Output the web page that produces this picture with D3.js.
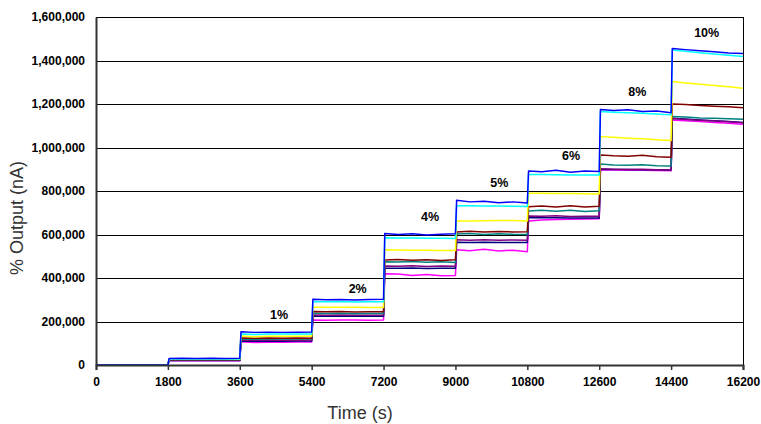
<!DOCTYPE html>
<html><head><meta charset="utf-8">
<script src="https://cdn.jsdelivr.net/npm/d3@7"></script>
<style>body{margin:0;background:#fff}svg{display:block}</style>
</head><body>
<svg id="c" width="761" height="424"></svg>
<script>
// time points (s)
const times = [0,360,720,1080,1440,1800,
  1830,2160,2520,2880,3240,3600,
  3630,3960,4320,4680,5040,5400,
  5430,5760,6120,6480,6840,7200,
  7230,7560,7920,8280,8640,9000,
  9030,9360,9720,10080,10440,10800,
  10830,11160,11520,11880,12240,12600,
  12630,12960,13320,13680,14040,14400,
  14430,14760,15120,15480,15840,16200];
// series values (thousand nA)
const blue = [0,0,0,0,0,0, 30,31,30,31,30,31, 153,150,151,150,151,152, 302,300,301,299,301,302,
  605,600,603,598,601,604, 758,750,753,746,750,745, 892,888,895,886,892,890,
  1175,1170,1174,1165,1168,1160, 1455,1450,1445,1440,1435,1432];
const cyan = [0,0,0,0,0,0, 28,28,28,28,28,28, 143,140,143,142,143,143, 292,291,292,290,291,291,
  585,584,584,583,583,582, 732,732,731,731,730,729, 876,876,875,874,874,873,
  1165,1162,1160,1157,1154,1150, 1448,1442,1436,1430,1424,1418];
const yellow = [0,0,0,0,0,0, 26,26,26,26,26,26, 133,130,132,132,132,132, 266,265,265,265,264,264,
  530,529,528,528,527,526, 662,662,663,664,664,662, 790,790,789,788,787,786,
  1050,1047,1043,1040,1036,1032, 1303,1297,1291,1285,1279,1272];
const darkred = [0,0,0,0,0,0, 24,24,24,24,24,24, 124,123,124,123,124,123, 246,245,246,244,245,245,
  483,485,482,484,481,484, 612,615,611,614,612,613, 728,731,727,732,726,730,
  966,962,960,964,958,955, 1200,1198,1193,1190,1187,1183];
const teal = [0,0,0,0,0,0, 23,23,23,23,23,23, 120,118,120,119,120,119, 238,237,238,236,237,237,
  475,473,476,472,475,471, 602,605,600,604,601,600, 708,712,707,711,706,709,
  924,920,918,921,916,915, 1142,1140,1136,1134,1132,1130];
const purple = [0,0,0,0,0,0, 22,22,22,22,22,22, 115,114,115,114,114,114, 230,229,230,229,229,229,
  455,454,456,453,455,454, 576,574,576,573,575,574, 685,684,686,683,684,684,
  902,900,899,900,898,897, 1133,1129,1125,1122,1118,1114];
const navy = [0,0,0,0,0,0, 21,21,21,21,21,21, 110,109,110,109,110,110, 225,224,225,224,224,224,
  445,445,446,444,445,445, 564,563,564,563,563,563, 677,677,677,676,676,676,
  900,899,899,898,898,897, 1135,1131,1127,1123,1119,1115];
const magenta = [0,0,0,0,0,0, 19,19,19,19,19,19, 107,104,105,105,106,106, 207,206,207,207,206,207,
  420,418,412,416,410,412, 530,525,532,524,528,521, 662,667,669,670,671,672,
  897,896,895,895,894,893, 1127,1123,1119,1115,1111,1107];

const seriesNames = ["magenta","navy","purple","teal","darkred","yellow","cyan","blue"];
const seriesData = [magenta,navy,purple,teal,darkred,yellow,cyan,blue];
const seriesColors = ["#ff00ff","#000080","#800080","#008080","#800000","#ffff00","#00ffff","#0000ff"];

const xTicks = [0,1800,3600,5400,7200,9000,10800,12600,14400,16200];
const yTicks = [0,200,400,600,800,1000,1200,1400,1600];

const pctLabels = ["1%","2%","4%","5%","6%","8%","10%"];
const pctTimes = [4582,6553,8363,10098,11893,13553,15290];
const pctValues = [225,348,677,835,956,1252,1525];

const svg = d3.select("#c");
const L=96,R=743,T=17,B=365;
const x = d3.scaleLinear().domain([0,16200]).range([L,R]);
const y = d3.scaleLinear().domain([0,1600]).range([B,T]);
const FF = "Liberation Sans, Arial, sans-serif";

// grid
svg.append("g").selectAll("line").data(yTicks.filter(d=>d>0)).join("line")
  .attr("x1",L).attr("x2",R).attr("y1",d=>Math.round(y(d))+0.5).attr("y2",d=>Math.round(y(d))+0.5)
  .attr("stroke","#000").attr("stroke-width",1);
// right border
svg.append("line").attr("x1",R+0.5).attr("x2",R+0.5).attr("y1",T).attr("y2",B).attr("stroke","#000");

// series
const line = d3.line().x((d,i)=>x(times[i])).y(d=>y(d));
svg.append("g").selectAll("path").data(seriesData).join("path")
  .attr("d",d=>line(d)).attr("fill","none")
  .attr("stroke",(d,i)=>seriesColors[i]).attr("stroke-width",1.5).attr("stroke-linejoin","round");

// axes
const xAxis = svg.append("g").attr("transform",`translate(0,${B})`)
  .call(d3.axisBottom(x).tickValues(xTicks).tickSize(5).tickPadding(7).tickFormat(d3.format("d")));
xAxis.select(".domain").attr("stroke","#333").attr("stroke-width",2);
xAxis.selectAll(".tick line").attr("stroke","#333").attr("stroke-width",1.5);
xAxis.selectAll("text").attr("font-family",FF).attr("font-weight","bold").attr("font-size",12).attr("fill","#000");

const yAxis = svg.append("g").attr("transform",`translate(${L},0)`)
  .call(d3.axisLeft(y).tickValues(yTicks).tickSize(0).tickPadding(11).tickFormat(d=>d3.format(",")(d*1000)));
yAxis.select(".domain").attr("stroke","#333").attr("stroke-width",2);
yAxis.selectAll("text").attr("font-family",FF).attr("font-weight","bold").attr("font-size",12).attr("fill","#000");

// pct labels
svg.append("g").selectAll("text").data(pctLabels).join("text")
  .attr("x",(d,i)=>x(pctTimes[i])).attr("y",(d,i)=>y(pctValues[i]))
  .attr("text-anchor","middle").attr("dominant-baseline","middle")
  .attr("font-family",FF).attr("font-weight","bold").attr("font-size",12.5)
  .text(d=>d);

// titles
svg.append("text").attr("x",360).attr("y",419).attr("text-anchor","middle")
  .attr("font-family",FF).attr("font-size",18).attr("fill","#333").text("Time (s)");
svg.append("text").attr("transform",`translate(23,218) rotate(-90)`).attr("text-anchor","middle")
  .attr("font-family",FF).attr("font-size",18).attr("fill","#333").text("% Output (nA)");
</script>
</body></html>
